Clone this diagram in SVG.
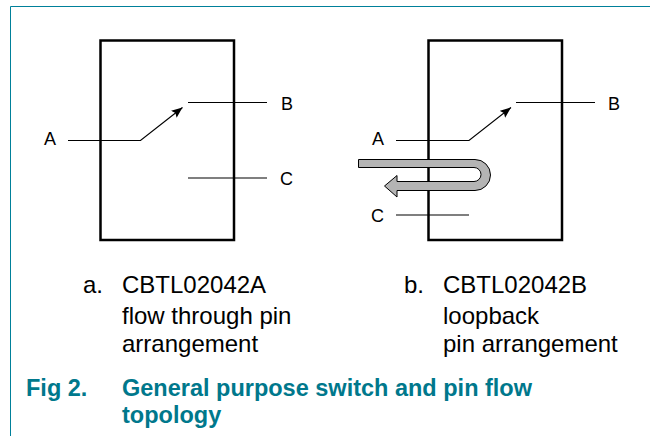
<svg xmlns="http://www.w3.org/2000/svg" width="650" height="436" viewBox="0 0 650 436">
<defs>
<marker id="ah" markerUnits="userSpaceOnUse" markerWidth="12" markerHeight="10" refX="11" refY="4.500" orient="auto"><path d="M0,0 L11,4.500 L0,9 L2,4.500 Z" fill="#000"/></marker>
</defs>
<style>
.b{fill:none;stroke:#000;stroke-width:2.500}
.l{fill:none;stroke:#000;stroke-width:1.200}
text{font-family:"Liberation Sans",Arial,sans-serif;fill:#000}
.p{font-size:18px}
.c{font-size:24px}
.t{font-size:23.500px;font-weight:bold;fill:#00788c}
</style>
<rect width="650" height="436" fill="#fff"/>
<path id="frame" d="M10.500,436 V6.500 H650" fill="none" stroke="#00809a" stroke-width="1"/>
<g id="node-a-box"><rect class="b" x="100.500" y="40.500" width="133.500" height="199.500"/></g>
<g id="node-b-box"><rect class="b" x="428.500" y="40.500" width="133.500" height="199.500"/></g>
<g id="connectors">
<path class="l" d="M68,140.500 H140.500 L182.500,107.500" marker-end="url(#ah)"/>
<path class="l" d="M188,102.500 H267"/>
<path class="l" d="M188,178 H267"/>
<path class="l" d="M396,140.500 H469 L511,107.500" marker-end="url(#ah)"/>
<path class="l" d="M516,102.500 H595"/>
<path class="l" d="M396,215 H469"/>
</g>
<g id="loop-arrow"><path d="M358.500,159.500 H475 A15.500,15.500 0 0 1 475,190.500 H397 V197 L384.500,186 L397,175.500 V181.500 H474 A7,7 0 0 0 474,167.500 H358.500 Z" fill="#b4b4b4" stroke="#000" stroke-width="1"/></g>
<g id="label-a1"><text class="p" x="44" y="145">A</text></g>
<g id="label-b1"><text class="p" x="281" y="110">B</text></g>
<g id="label-c1"><text class="p" x="280" y="185">C</text></g>
<g id="label-a2"><text class="p" x="372" y="145">A</text></g>
<g id="label-b2"><text class="p" x="608" y="110">B</text></g>
<g id="label-c2"><text class="p" x="371" y="222">C</text></g>
<g id="caption-a"><text class="c" x="83" y="293">a.</text><text class="c" x="122" y="293">CBTL02042A</text><text class="c" x="122" y="324">flow through pin</text><text class="c" x="122" y="352">arrangement</text></g>
<g id="caption-b"><text class="c" x="404" y="293">b.</text><text class="c" x="443" y="293">CBTL02042B</text><text class="c" x="443" y="324">loopback</text><text class="c" x="443" y="352">pin arrangement</text></g>
<g id="title"><text class="t" x="26" y="396">Fig 2.</text><text class="t" x="122" y="396">General purpose switch and pin flow</text><text class="t" x="122" y="423">topology</text></g>
</svg>
